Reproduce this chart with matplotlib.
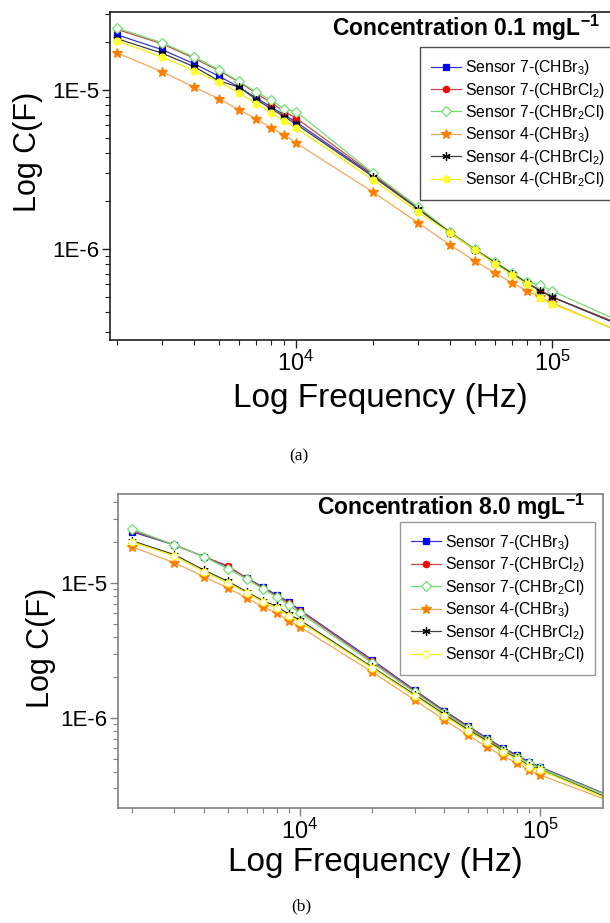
import numpy as np
import matplotlib
matplotlib.use('Agg')
import matplotlib.pyplot as plt
from matplotlib.ticker import LogLocator, NullFormatter, FixedLocator, FixedFormatter

plt.rcParams['font.family'] = ['Liberation Sans', 'DejaVu Sans']
plt.rcParams['mathtext.fontset'] = 'custom'
plt.rcParams['mathtext.rm'] = 'Liberation Sans'
plt.rcParams['mathtext.it'] = 'Liberation Sans:italic'
plt.rcParams['mathtext.bf'] = 'Liberation Sans:bold'

# frequency points (Hz)
freq = [2000, 3000, 4000, 5000, 6000, 7000, 8000, 9000, 10000,
        20000, 30000, 40000, 50000, 60000, 70000, 80000, 90000, 100000, 200000]

names = ['Sensor 7-(CHBr$_3$)', 'Sensor 7-(CHBrCl$_2$)', 'Sensor 7-(CHBr$_2$Cl)',
         'Sensor 4-(CHBr$_3$)', 'Sensor 4-(CHBrCl$_2$)', 'Sensor 4-(CHBr$_2$Cl)']

# (a) concentration 0.1 mg/L
a_s7_chbr3 = [2.22e-5, 1.79e-5, 1.46e-5, 1.22e-5, 1.04e-5, 8.9e-6, 7.8e-6, 6.97e-6, 6.29e-6,
              2.9e-6, 1.8e-6, 1.27e-6, 9.9e-7, 8.2e-7, 7.0e-7, 6.1e-7, 5.5e-7, 5.0e-7, 3.15e-7]
a_s7_chbrcl2 = [2.4e-5, 1.95e-5, 1.58e-5, 1.32e-5, 1.12e-5, 9.5e-6, 8.3e-6, 7.3e-6, 6.67e-6,
                2.95e-6, 1.8e-6, 1.27e-6, 9.9e-7, 8.2e-7, 7.0e-7, 6.1e-7, 5.5e-7, 5.0e-7, 3.2e-7]
a_s7_chbr2cl = [2.45e-5, 1.98e-5, 1.61e-5, 1.34e-5, 1.13e-5, 9.7e-6, 8.65e-6, 7.6e-6, 7.3e-6,
                3.0e-6, 1.84e-6, 1.28e-6, 1.0e-6, 8.3e-7, 7.07e-7, 6.2e-7, 5.94e-7, 5.45e-7, 3.3e-7]
a_s4_chbr3 = [1.71e-5, 1.30e-5, 1.04e-5, 8.8e-6, 7.5e-6, 6.57e-6, 5.77e-6, 5.21e-6, 4.64e-6,
              2.28e-6, 1.46e-6, 1.06e-6, 8.4e-7, 7.07e-7, 6.1e-7, 5.45e-7, 5.0e-7, 4.6e-7, 2.85e-7]
a_s4_chbrcl2 = [2.1e-5, 1.7e-5, 1.4e-5, 1.14e-5, 1.04e-5, 8.7e-6, 7.6e-6, 6.8e-6, 6.1e-6,
                2.85e-6, 1.78e-6, 1.27e-6, 9.9e-7, 8.2e-7, 7.0e-7, 6.1e-7, 5.45e-7, 4.99e-7, 3.15e-7]
a_s4_chbr2cl = [2.03e-5, 1.61e-5, 1.32e-5, 1.12e-5, 9.6e-6, 8.2e-6, 7.2e-6, 6.38e-6, 5.77e-6,
                2.72e-6, 1.71e-6, 1.26e-6, 9.86e-7, 8.05e-7, 6.86e-7, 6.02e-7, 4.92e-7, 4.51e-7, 2.9e-7]

# (b) concentration 8.0 mg/L
b_s7_chbr3 = [2.39e-5, 1.91e-5, 1.56e-5, 1.32e-5, 1.09e-5, 9.34e-6, 8.15e-6, 7.23e-6, 6.31e-6,
              2.69e-6, 1.61e-6, 1.13e-6, 8.73e-7, 7.11e-7, 6.0e-7, 5.32e-7, 4.72e-7, 4.34e-7, 2.6e-7]
b_s7_chbrcl2 = [2.45e-5, 1.91e-5, 1.56e-5, 1.34e-5, 1.08e-5, 9.2e-6, 8.0e-6, 7.1e-6, 6.2e-6,
                2.62e-6, 1.58e-6, 1.11e-6, 8.6e-7, 7.0e-7, 5.9e-7, 5.25e-7, 4.65e-7, 4.28e-7, 2.58e-7]
b_s7_chbr2cl = [2.51e-5, 1.91e-5, 1.56e-5, 1.27e-5, 1.07e-5, 9.03e-6, 7.87e-6, 6.87e-6, 6.0e-6,
                2.55e-6, 1.55e-6, 1.09e-6, 8.4e-7, 6.9e-7, 5.8e-7, 5.15e-7, 4.6e-7, 4.25e-7, 2.57e-7]
b_s4_chbr3 = [1.85e-5, 1.41e-5, 1.11e-5, 9.18e-6, 7.74e-6, 6.64e-6, 6.0e-6, 5.23e-6, 4.72e-6,
              2.19e-6, 1.36e-6, 9.66e-7, 7.48e-7, 6.10e-7, 5.23e-7, 4.64e-7, 4.12e-7, 3.78e-7, 2.38e-7]
b_s4_chbrcl2 = [2.05e-5, 1.62e-5, 1.24e-5, 1.03e-5, 8.6e-6, 7.4e-6, 6.7e-6, 5.85e-6, 5.3e-6,
                2.38e-6, 1.49e-6, 1.06e-6, 8.2e-7, 6.8e-7, 5.7e-7, 5.05e-7, 4.4e-7, 4.15e-7, 2.48e-7]
b_s4_chbr2cl = [2.01e-5, 1.58e-5, 1.21e-5, 1.0e-5, 8.44e-6, 7.23e-6, 6.53e-6, 5.70e-6, 5.14e-6,
                2.34e-6, 1.46e-6, 1.035e-6, 8.01e-7, 6.64e-7, 5.60e-7, 4.97e-7, 4.34e-7, 4.12e-7, 2.43e-7]

# line colour, marker, marker face, marker edge, marker size
styles = [
    ('#3838c8', 's', '#0000ff', '#0000ff', 4.5),
    ('#c84848', 'o', '#ff0000', '#ff0000', 4.5),
    ('#70e070', 'D', 'white', '#70e070', 5.0),
    ('#f0a858', '*', '#ff8000', '#ff8000', 7.0),
    ('#404040', (6, 2, 0), 'black', 'black', 6.0),
    ('#f0f000', 'o', '#ffff30', '#ffff30', 5.0),
]


def panel(ax, series, title, xlim, ylim, frame, yellow_open, leg_xy, title_xy):
    for i, (vals, name) in enumerate(zip(series, names)):
        lc, mk, mf, me, ms = styles[i]
        if i == 5 and yellow_open:
            mf = 'white'
        ax.plot(freq, vals, color=lc, lw=0.9, marker=mk, mfc=mf, mec=me,
                ms=ms, mew=0.9, label=name)
    ax.set_xscale('log')
    ax.set_yscale('log')
    ax.set_xlim(*xlim)
    ax.set_ylim(*ylim)
    ax.xaxis.set_major_locator(FixedLocator([1e4, 1e5]))
    ax.xaxis.set_major_formatter(FixedFormatter(['$10^4$', '$10^5$']))
    ax.xaxis.set_minor_locator(LogLocator(base=10, subs=np.arange(2, 10)))
    ax.xaxis.set_minor_formatter(NullFormatter())
    ax.yaxis.set_major_locator(FixedLocator([1e-6, 1e-5]))
    ax.yaxis.set_major_formatter(FixedFormatter(['1E-6', '1E-5']))
    ax.yaxis.set_minor_locator(LogLocator(base=10, subs=np.arange(2, 10)))
    ax.yaxis.set_minor_formatter(NullFormatter())
    ax.tick_params(which='major', direction='out', length=6, width=1, colors=frame, labelcolor='black')
    ax.tick_params(which='minor', direction='out', length=3.5, width=0.8, colors=frame)
    ax.tick_params(axis='x', labelsize=17, pad=2)
    ax.tick_params(axis='y', labelsize=16, pad=2)
    for s in ax.spines.values():
        s.set_color(frame)
        s.set_linewidth(1.2)
    ax.text(title_xy[0], title_xy[1], title, transform=ax.transAxes, ha='right', va='center',
            fontsize=16.5, fontweight='bold')
    leg = ax.legend(loc='upper left', bbox_to_anchor=leg_xy, borderaxespad=0, fontsize=11.3,
                    frameon=True, fancybox=False, edgecolor=frame, handlelength=1.9,
                    labelspacing=0.22, borderpad=0.7, handletextpad=0.25)
    leg.get_frame().set_linewidth(1.0)
    ax.set_xlabel('Log Frequency (Hz)', fontsize=24)
    ax.set_ylabel('Log C(F)', fontsize=22)


fig = plt.figure(figsize=(6.1, 9.23), dpi=100)

ax1 = fig.add_axes([110 / 610, 1 - 340 / 923, 502 / 610, 328 / 923])
panel(ax1, [a_s7_chbr3, a_s7_chbrcl2, a_s7_chbr2cl, a_s4_chbr3, a_s4_chbrcl2, a_s4_chbr2cl],
      'Concentration 0.1 mgL$^{\\mathbf{-1}}$', (1875, 1.715e5), (2.68e-7, 3.09e-5),
      '#202020', False, (0.6175, 0.893), (0.976, 0.951))
ax1.xaxis.set_label_coords(0.538, -0.178)
ax1.xaxis.label.set_va('center')
ax1.yaxis.set_label_coords(-0.163, 0.573)
ax1.yaxis.label.set_va('center')

ax2 = fig.add_axes([118 / 610, 1 - 808 / 923, 485 / 610, 314 / 923])
panel(ax2, [b_s7_chbr3, b_s7_chbrcl2, b_s7_chbr2cl, b_s4_chbr3, b_s4_chbrcl2, b_s4_chbr2cl],
      'Concentration 8.0 mgL$^{\\mathbf{-1}}$', (1745, 1.83e5), (2.15e-7, 4.56e-5),
      '#808080', True, (0.581, 0.911), (0.963, 0.959))
ax2.xaxis.set_label_coords(0.53, -0.172)
ax2.xaxis.label.set_va('center')
ax2.yaxis.set_label_coords(-0.159, 0.51)
ax2.yaxis.label.set_va('center')

fig.text(299 / 610, 1 - 456 / 923, '(a)', family=['Liberation Serif', 'DejaVu Serif'],
         fontsize=12.5, ha='center', va='center')
fig.text(301 / 610, 1 - 906 / 923, '(b)', family=['Liberation Serif', 'DejaVu Serif'],
         fontsize=12.5, ha='center', va='center')

fig.savefig('out.png', dpi=100)
